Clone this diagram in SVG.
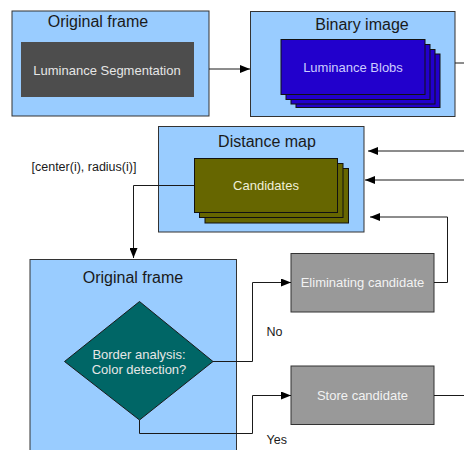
<svg xmlns="http://www.w3.org/2000/svg" width="464" height="450" viewBox="0 0 464 450">
  <style>
    .frame { fill: #99ccff; stroke: #333333; stroke-width: 1; }
    .title { font-family: "Liberation Sans", Arial, sans-serif; font-size: 16px; fill: #1a1a1a; text-anchor: middle; }
    .lbl { font-family: "Liberation Sans", Arial, sans-serif; font-size: 13px; text-anchor: middle; }
    .note { font-family: "Liberation Sans", Arial, sans-serif; font-size: 12.5px; fill: #1a1a1a; }
    .wire { fill: none; stroke: #1a1a1a; stroke-width: 1; }
    .blob { fill: #2200cc; stroke: #111111; stroke-width: 1; }
    .cand { fill: #666600; stroke: #111111; stroke-width: 1; }
    .proc { fill: #999999; stroke: #333333; stroke-width: 1; }
  </style>
  <defs>
    <marker id="arrow" viewBox="0 0 10 8" refX="10" refY="4" markerWidth="10" markerHeight="8" markerUnits="userSpaceOnUse" orient="auto">
      <path d="M0,0 L10,4 L0,8 Z" fill="#000000"/>
    </marker>
  </defs>

  <!-- Original frame with luminance segmentation -->
  <g id="original-frame-top">
    <rect class="frame" x="12" y="11" width="197" height="105"/>
    <text class="title" x="98" y="27">Original frame</text>
    <rect x="21" y="42" width="173" height="55" fill="#4d4d4d"/>
    <text class="lbl" x="107" y="74.5" fill="#e6e6e6">Luminance Segmentation</text>
  </g>

  <!-- Binary image with stacked blobs -->
  <g id="binary-image">
    <rect class="frame" x="250.5" y="11.5" width="204.5" height="105"/>
    <text class="title" x="362" y="30">Binary image</text>
    <rect class="blob" x="296" y="54" width="144" height="53.5"/>
    <rect class="blob" x="291" y="49.5" width="144" height="54.5"/>
    <rect class="blob" x="286" y="44.5" width="144" height="55"/>
    <rect class="blob" x="281" y="39.5" width="144" height="55"/>
    <text class="lbl" x="353" y="71.5" fill="#ccccff">Luminance Blobs</text>
  </g>

  <!-- Distance map with stacked candidates -->
  <g id="distance-map">
    <rect class="frame" x="158.5" y="126.5" width="205.5" height="105.5"/>
    <text class="title" x="267" y="147">Distance map</text>
    <rect class="cand" x="205" y="168.5" width="143.5" height="54.5"/>
    <rect class="cand" x="199.5" y="163.5" width="143.5" height="54"/>
    <rect class="cand" x="194.5" y="158.5" width="143" height="54"/>
    <text class="lbl" x="266" y="190" fill="#f0f0d8">Candidates</text>
  </g>

  <g id="candidate-list-label">
    <text class="note" x="31.5" y="170.5">[center(i), radius(i)]</text>
  </g>

  <!-- Original frame with border analysis decision -->
  <g id="original-frame-bottom">
    <rect class="frame" x="30" y="259.5" width="206.5" height="200"/>
    <text class="title" x="133" y="283">Original frame</text>
  </g>

  <g id="border-analysis">
    <path d="M139.5,301.5 L213,361.5 L139.5,420 L64.5,361.5 Z" fill="#006666" stroke="#1a1a1a" stroke-width="1"/>
    <text class="lbl" x="139" y="358.5" fill="#e6e6e6">Border analysis:</text>
    <text class="lbl" x="139" y="373.5" fill="#e6e6e6">Color detection?</text>
  </g>

  <g id="eliminating-candidate">
    <rect class="proc" x="291" y="253.5" width="143" height="58.5"/>
    <text class="lbl" x="362.5" y="287" fill="#f2f2f2">Eliminating candidate</text>
  </g>

  <g id="store-candidate">
    <rect class="proc" x="291" y="366" width="143" height="58.5"/>
    <text class="lbl" x="362.5" y="400" fill="#f2f2f2">Store candidate</text>
  </g>

  <g id="branch-labels">
    <text class="note" x="266.5" y="336">No</text>
    <text class="note" x="266.5" y="444">Yes</text>
  </g>

  <!-- Connectors, drawn last so they stay visible over the frames -->
  <g id="connectors">
    <path class="wire" d="M209,69 H250" marker-end="url(#arrow)"/>
    <path class="wire" d="M455,63 H464"/>
    <path class="wire" d="M464,151 H368" marker-end="url(#arrow)"/>
    <path class="wire" d="M464,180 H365" marker-end="url(#arrow)"/>
    <path class="wire" d="M194,185.5 H133.5 V258" marker-end="url(#arrow)"/>
    <path class="wire" d="M213,361.5 H252.5 V282.5 H291" marker-end="url(#arrow)"/>
    <path class="wire" d="M434,282.5 H447.5 V217 H370" marker-end="url(#arrow)"/>
    <path class="wire" d="M139.5,420 V433.5 H252.5 V395.5 H291" marker-end="url(#arrow)"/>
    <path class="wire" d="M434,395.5 H464"/>
  </g>
</svg>
